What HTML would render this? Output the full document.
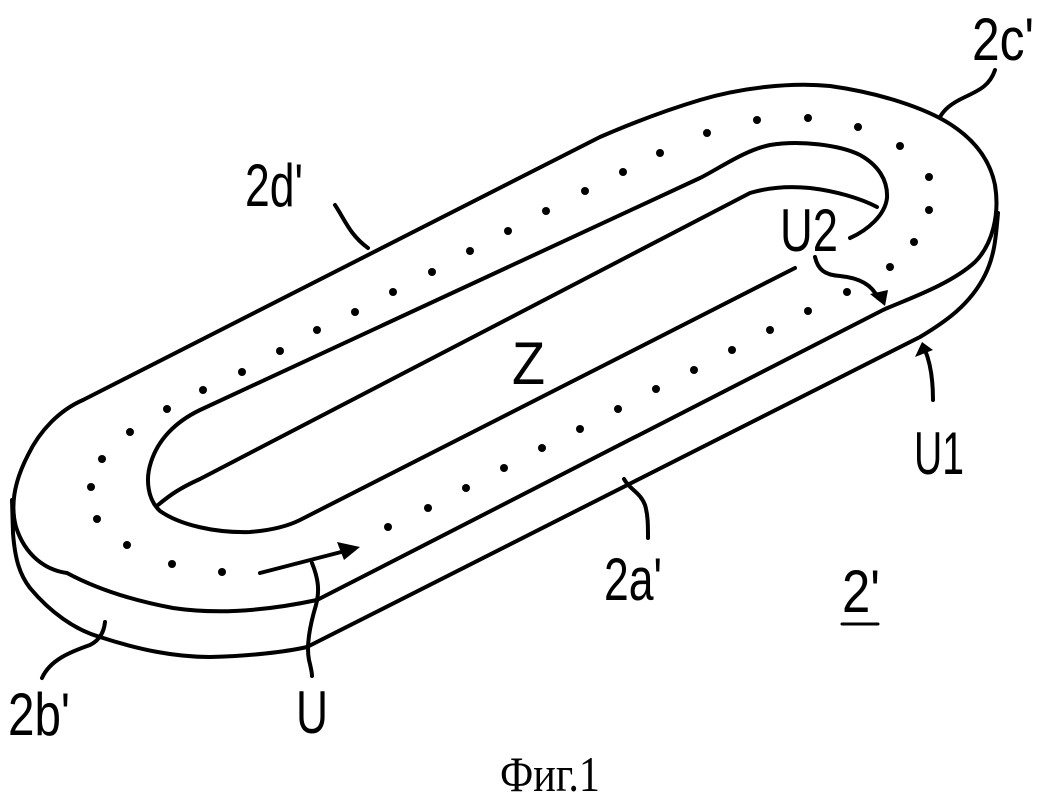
<!DOCTYPE html>
<html><head><meta charset="utf-8"><style>
html,body{margin:0;padding:0;background:#fff}
svg{display:block}
text{font-family:"Liberation Sans",sans-serif;fill:#000}
</style></head><body>
<svg width="1050" height="805" viewBox="0 0 1050 805" xmlns="http://www.w3.org/2000/svg">
<g fill="none" stroke="#000" stroke-width="4" stroke-linejoin="round" stroke-linecap="round">
<path d="M317,600 L883,310 C905,300 950,285 975,262 C992,245 1000,215 995,185 C990,160 975,140 950,124 C925,108 880,93 830,86 C790,82 740,88 700,100 C660,112 630,124 600,137 L83,400 C60,410 40,430 28,455 C15,480 10,505 16,527 C25,555 45,570 67,573 C95,588 130,600 173,608 C220,615 270,610 317,600 Z"/>
<path d="M12,500 L13,533 C15,560 20,575 30,588 C50,612 75,630 100,637 C140,650 175,657 210,657 C250,656 285,652 307,647 L920,337 C945,322 970,305 985,275 C995,255 996,235 998,213"/>
<path d="M850,238 C868,230 885,215 887,198 C888,180 878,165 860,155 C840,145 800,140 770,145 C745,150 720,168 700,178 L200,410 C175,422 158,440 151,462 C145,480 148,500 160,511 C180,525 215,533 250,532 C275,530 290,525 300,520 L795,268"/>
<path d="M158,505 C170,495 180,488 200,479 L750,193 C770,187 790,186 810,188 C835,191 860,198 877,207"/>
<path d="M260,573 L345,551"/>
<path d="M312,563 C318,578 320,590 316,605 C310,625 306,645 309,660 C311,668 312,672 312,676"/>
<path d="M105,622 C104,632 100,640 90,645 C70,652 50,660 42,678"/>
<path d="M995,70 C990,85 980,90 965,97 C950,104 944,110 940,117"/>
<path d="M815,257 C818,270 825,275 840,276 C860,278 872,285 878,298"/>
<path d="M933,400 C933,380 930,362 925,350"/>
<path d="M335,205 C345,220 350,235 368,248"/>
<path d="M624,479 C630,490 640,492 645,505 C648,515 648,525 648,538"/>
<path d="M842,624 L878,624" stroke-width="3"/>
</g>
<g fill="#000">
<polygon points="360,547 337,542 344,560"/>
<polygon points="885,306 870,294 888,290"/>
<polygon points="922,342 915,357 933,350"/>
<circle cx="623" cy="172" r="4"/><circle cx="585" cy="191" r="4"/><circle cx="546" cy="211" r="4"/><circle cx="508" cy="231" r="4"/><circle cx="470" cy="251" r="4"/><circle cx="432" cy="272" r="4"/><circle cx="393" cy="292" r="4"/>
<circle cx="355" cy="312" r="4"/><circle cx="317" cy="330" r="4"/><circle cx="280" cy="351" r="4"/><circle cx="242" cy="372" r="4"/><circle cx="203" cy="390" r="4"/><circle cx="167" cy="409" r="4"/><circle cx="130" cy="432" r="4"/><circle cx="102" cy="459" r="4"/><circle cx="91" cy="487" r="4"/><circle cx="97" cy="519" r="4"/><circle cx="127" cy="545" r="4"/><circle cx="172" cy="564" r="4"/><circle cx="222" cy="572" r="4"/>
<circle cx="660" cy="153" r="4"/><circle cx="707" cy="133" r="4"/><circle cx="757" cy="120" r="4"/><circle cx="808" cy="118" r="4"/><circle cx="858" cy="127" r="4"/><circle cx="900" cy="146" r="4"/><circle cx="929" cy="177" r="4"/><circle cx="929" cy="210" r="4"/><circle cx="914" cy="242" r="4"/><circle cx="890" cy="267" r="4"/><circle cx="847" cy="292" r="4"/>
<circle cx="808" cy="311" r="4"/><circle cx="770" cy="330" r="4"/><circle cx="732" cy="350" r="4"/><circle cx="694" cy="370" r="4"/><circle cx="656" cy="389" r="4"/><circle cx="618" cy="409" r="4"/><circle cx="580" cy="429" r="4"/><circle cx="542" cy="448" r="4"/><circle cx="504" cy="468" r="4"/><circle cx="466" cy="488" r="4"/><circle cx="428" cy="508" r="4"/><circle cx="388" cy="527" r="4"/>
</g>
<g font-size="60">
<text x="972" y="60" textLength="62" lengthAdjust="spacingAndGlyphs">2c'</text>
<text x="245" y="206" textLength="58" lengthAdjust="spacingAndGlyphs">2d'</text>
<text x="780" y="251" textLength="58" lengthAdjust="spacingAndGlyphs">U2</text>
<text x="512" y="384" textLength="33" lengthAdjust="spacingAndGlyphs">Z</text>
<text x="914" y="474" textLength="50" lengthAdjust="spacingAndGlyphs">U1</text>
<text x="604" y="600" textLength="58" lengthAdjust="spacingAndGlyphs">2a'</text>
<text x="842" y="612" textLength="38" lengthAdjust="spacingAndGlyphs">2'</text>
<text x="8" y="735" textLength="62" lengthAdjust="spacingAndGlyphs">2b'</text>
<text x="296" y="733" textLength="32" lengthAdjust="spacingAndGlyphs">U</text>
</g>
<text x="500" y="791" font-size="50" textLength="100" lengthAdjust="spacingAndGlyphs" style='font-family:"Liberation Serif",serif'>Фиг.1</text>
</svg>
</body></html>
